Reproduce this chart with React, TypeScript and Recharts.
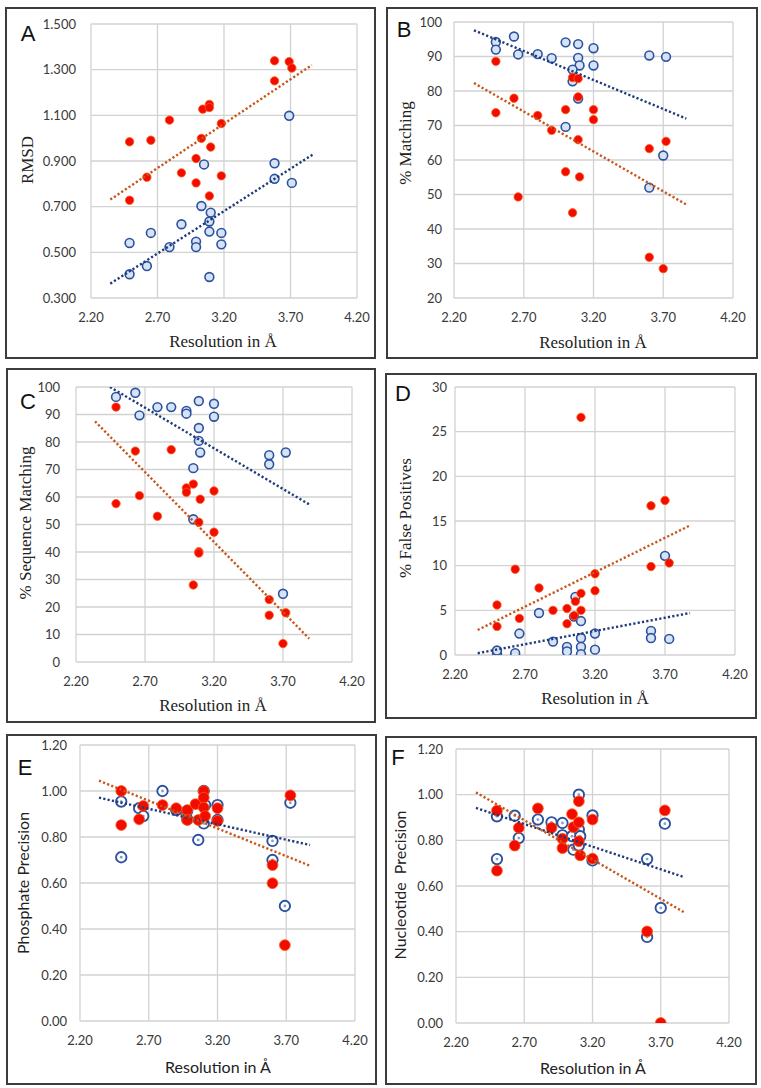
import React from 'react';
import { ScatterChart, Scatter, XAxis, YAxis, CartesianGrid } from 'recharts';

type Pt = { x: number; y: number };
const pts = (a: number[][]): Pt[] => a.map(([x, y]) => ({ x, y }));

// shared x axis ticks (Resolution in Å)
const resolutionTicks = [2.2, 2.7, 3.2, 3.7, 4.2];

// ---- Panel A: RMSD ----
const rmsdTicks = [0.3, 0.5, 0.7, 0.9, 1.1, 1.3, 1.5];
const rmsdBlue = pts([[2.49,0.541],[2.49,0.404],[2.65,0.585],[2.62,0.44],[2.79,0.523],[2.88,0.623],[2.99,0.547],[2.99,0.523],[3.05,0.885],[3.03,0.703],[3.1,0.674],[3.09,0.635],[3.09,0.591],[3.09,0.392],[3.18,0.585],[3.18,0.535],[3.58,0.89],[3.58,0.822],[3.69,1.098],[3.71,0.804]]);
const rmsdRed = pts([[2.49,0.984],[2.65,0.991],[2.79,1.079],[2.62,0.829],[2.49,0.728],[2.88,0.848],[2.99,0.911],[2.99,0.804],[3.04,1.127],[3.09,1.148],[3.09,1.134],[3.03,0.999],[3.1,0.961],[3.09,0.747],[3.18,1.064],[3.18,0.835],[3.58,1.339],[3.69,1.335],[3.71,1.307],[3.58,1.251]]);
const rmsdBlueTrend = pts([[2.345,0.363],[3.88,0.933]]);
const rmsdRedTrend = pts([[2.345,0.731],[3.86,1.32]]);

// ---- Panel B: % Matching ----
const matchTicks = [20, 30, 40, 50, 60, 70, 80, 90, 100];
const matchBlue = pts([[2.5,94.2],[2.5,92.0],[2.63,95.8],[2.66,90.6],[2.8,90.7],[2.9,89.5],[3.0,94.1],[3.09,93.6],[3.2,92.4],[3.09,89.6],[3.1,87.4],[3.2,87.4],[3.05,86.2],[3.05,82.8],[3.09,77.8],[3.0,69.6],[3.6,90.3],[3.72,89.9],[3.7,61.3],[3.6,52.0]]);
const matchRed = pts([[2.5,88.6],[2.5,73.7],[2.63,77.9],[2.66,49.3],[2.8,72.9],[2.9,68.6],[3.0,74.6],[3.0,56.6],[3.05,44.7],[3.05,83.9],[3.09,83.6],[3.09,78.3],[3.09,65.9],[3.1,55.1],[3.2,74.6],[3.2,71.7],[3.6,63.3],[3.72,65.4],[3.6,31.8],[3.7,28.5]]);
const matchBlueTrend = pts([[2.343,97.6],[3.865,72.0]]);
const matchRedTrend = pts([[2.343,82.3],[3.865,47.1]]);

// ---- Panel C: % Sequence Matching ----
const seqTicks = [0, 10, 20, 30, 40, 50, 60, 70, 80, 90, 100];
const seqBlue = pts([[2.49,96.4],[2.63,97.9],[2.66,89.7],[2.79,92.7],[2.89,92.7],[3.0,91.3],[3.0,90.3],[3.09,94.9],[3.2,93.9],[3.2,89.2],[3.09,85.1],[3.09,80.4],[3.1,76.2],[3.05,70.5],[3.05,51.9],[3.6,75.2],[3.6,71.9],[3.72,76.2],[3.7,24.8]]);
const seqRed = pts([[2.49,92.7],[2.49,57.6],[2.63,76.7],[2.66,60.5],[2.79,53.0],[2.89,77.2],[3.0,63.3],[3.0,61.7],[3.05,64.7],[3.1,59.2],[3.09,50.8],[3.09,40.1],[3.09,39.6],[3.05,28.0],[3.2,62.2],[3.2,47.2],[3.6,22.7],[3.6,17.0],[3.72,17.9],[3.7,6.7]]);
const seqBlueTrend = pts([[2.446,100],[3.89,57.3]]);
const seqRedTrend = pts([[2.338,87.5],[3.89,8.5]]);

// ---- Panel D: % False Positives ----
const fpTicks = [0, 5, 10, 15, 20, 25, 30];
const fpBlue = pts([[2.5,0.2],[2.5,0.5],[2.63,0.2],[2.66,2.4],[2.8,4.7],[2.9,1.5],[3.0,0.9],[3.0,0.4],[3.06,6.5],[3.05,4.3],[3.1,3.8],[3.1,1.9],[3.1,0.9],[3.1,0.1],[3.2,2.4],[3.2,0.6],[3.6,2.7],[3.6,1.9],[3.73,1.8],[3.7,11.1]]);
const fpRed = pts([[2.5,5.6],[2.5,3.2],[2.63,9.6],[2.66,4.1],[2.8,7.5],[2.9,5.0],[3.0,5.2],[3.0,3.5],[3.05,4.4],[3.06,6.0],[3.1,6.9],[3.1,5.0],[3.1,26.6],[3.2,9.1],[3.2,7.2],[3.6,16.7],[3.7,17.3],[3.6,9.9],[3.73,10.3]]);
const fpBlueTrend = pts([[2.362,0.2],[3.879,4.7]]);
const fpRedTrend = pts([[2.362,2.8],[3.879,14.5]]);

// ---- Panel E: Phosphate Precision ----
const precTicks = [0, 0.2, 0.4, 0.6, 0.8, 1.0, 1.2];
const phosBlue = pts([[2.5,0.954],[2.5,0.712],[2.63,0.925],[2.66,0.891],[2.8,1.0],[2.9,0.917],[2.98,0.914],[2.98,0.877],[3.06,0.787],[3.1,0.859],[3.11,0.939],[3.1,1.0],[3.2,0.939],[3.2,0.874],[3.6,0.783],[3.6,0.7],[3.69,0.5],[3.73,0.949]]);
const phosRed = pts([[2.5,1.0],[2.5,0.852],[2.63,0.877],[2.66,0.935],[2.8,0.939],[2.9,0.925],[2.98,0.917],[2.98,0.874],[3.04,0.943],[3.06,0.874],[3.1,1.0],[3.1,0.971],[3.1,0.928],[3.11,0.891],[3.2,0.925],[3.2,0.87],[3.6,0.678],[3.6,0.599],[3.69,0.33],[3.73,0.981]]);
const phosBlueTrend = pts([[2.338,0.971],[3.873,0.765]]);
const phosRedTrend = pts([[2.338,1.045],[3.873,0.675]]);

// ---- Panel F: Nucleotide Precision ----
const nucBlue = pts([[2.5,0.905],[2.5,0.718],[2.63,0.908],[2.66,0.81],[2.8,0.891],[2.9,0.879],[2.98,0.876],[2.98,0.822],[3.05,0.818],[3.06,0.759],[3.1,1.0],[3.1,0.847],[3.11,0.818],[3.1,0.777],[3.2,0.909],[3.2,0.712],[3.6,0.718],[3.6,0.377],[3.7,0.504],[3.73,0.873]]);
const nucRed = pts([[2.5,0.93],[2.5,0.667],[2.63,0.777],[2.66,0.855],[2.8,0.94],[2.9,0.855],[2.98,0.807],[2.98,0.766],[3.05,0.915],[3.06,0.858],[3.1,0.971],[3.1,0.879],[3.1,0.796],[3.11,0.734],[3.2,0.891],[3.2,0.72],[3.6,0.401],[3.7,0.0],[3.73,0.931]]);
const nucBlueTrend = pts([[2.346,0.942],[3.871,0.639]]);
const nucRedTrend = pts([[2.346,1.01],[3.871,0.485]]);

const SERIF = '"Liberation Serif", "Times New Roman", serif';
const SANS = 'Lato, "Open Sans", sans-serif';
const LETTER_FONT = '"Liberation Sans", Arial, sans-serif';

const BLUE_STROKE = '#2c519f';
const RED_FILL = '#f20c00';
const BLUE_TREND = '#1f3a7a';
const RED_TREND = '#c8561a';

const BlueDot = (p: any) => (
  <circle cx={p.cx} cy={p.cy} r={4.4} fill="#d5e3f5" stroke={BLUE_STROKE} strokeWidth={1.6} />
);
const BlueRing = (p: any) => (
  <g>
    <circle cx={p.cx} cy={p.cy} r={5.2} fill="#ffffff" stroke={BLUE_STROKE} strokeWidth={1.9} />
    <circle cx={p.cx} cy={p.cy} r={1.4} fill="#7f9fd6" />
  </g>
);
const RedDot = (p: any) => (
  <circle cx={p.cx} cy={p.cy} r={4.2} fill={RED_FILL} stroke="#ff5a14" strokeWidth={0.8} />
);
const RedBig = (p: any) => (
  <circle cx={p.cx} cy={p.cy} r={5.4} fill={RED_FILL} stroke="#ff5a14" strokeWidth={0.8} />
);
const NoDot = () => <g />;

type Rect = { l: number; t: number; r: number; b: number };
type PanelCfg = {
  box: Rect;
  plot: Rect;
  yDomain: [number, number];
  yTicks: number[];
  yFmt: (v: number) => string;
  yGap: number;
  blue: Pt[];
  red: Pt[];
  blueTrend: Pt[];
  redTrend: Pt[];
  letter: string;
  letterPos: [number, number];
  xTitlePos: [number, number];
  yTitle: string;
  yTitlePos: [number, number];
  serif: boolean;
  big: boolean;
};

const panels: PanelCfg[] = [
  {
    box: { l: 5, t: 7, r: 376, b: 359 }, plot: { l: 91, t: 24, r: 357, b: 298 },
    yDomain: [0.3, 1.5], yTicks: rmsdTicks, yFmt: (v) => v.toFixed(3), yGap: 15,
    blue: rmsdBlue, red: rmsdRed, blueTrend: rmsdBlueTrend, redTrend: rmsdRedTrend,
    letter: 'A', letterPos: [28, 34], xTitlePos: [223, 341], yTitle: 'RMSD', yTitlePos: [27, 160],
    serif: true, big: false,
  },
  {
    box: { l: 386, t: 7, r: 758, b: 359 }, plot: { l: 454, t: 22, r: 733, b: 298 },
    yDomain: [20, 100], yTicks: matchTicks, yFmt: (v) => String(v), yGap: 12,
    blue: matchBlue, red: matchRed, blueTrend: matchBlueTrend, redTrend: matchRedTrend,
    letter: 'B', letterPos: [404, 30], xTitlePos: [593, 342], yTitle: '% Matching', yTitlePos: [405, 143],
    serif: true, big: false,
  },
  {
    box: { l: 6, t: 368, r: 376, b: 723 }, plot: { l: 76, t: 387, r: 352, b: 662 },
    yDomain: [0, 100], yTicks: seqTicks, yFmt: (v) => String(v), yGap: 16,
    blue: seqBlue, red: seqRed, blueTrend: seqBlueTrend, redTrend: seqRedTrend,
    letter: 'C', letterPos: [28, 402], xTitlePos: [213, 705], yTitle: '% Sequence Matching', yTitlePos: [25, 523],
    serif: true, big: false,
  },
  {
    box: { l: 385, t: 373, r: 757, b: 719 }, plot: { l: 455, t: 387, r: 735, b: 655 },
    yDomain: [0, 30], yTicks: fpTicks, yFmt: (v) => String(v), yGap: 8,
    blue: fpBlue, red: fpRed, blueTrend: fpBlueTrend, redTrend: fpRedTrend,
    letter: 'D', letterPos: [403, 394], xTitlePos: [595, 698], yTitle: '% False Positives', yTitlePos: [405, 518],
    serif: true, big: false,
  },
  {
    box: { l: 6, t: 734, r: 377, b: 1085 }, plot: { l: 80, t: 745, r: 355, b: 1021 },
    yDomain: [0, 1.2], yTicks: precTicks, yFmt: (v) => v.toFixed(2), yGap: 13,
    blue: phosBlue, red: phosRed, blueTrend: phosBlueTrend, redTrend: phosRedTrend,
    letter: 'E', letterPos: [25, 768], xTitlePos: [218, 1067], yTitle: 'Phosphate Precision', yTitlePos: [23, 883],
    serif: false, big: true,
  },
  {
    box: { l: 385, t: 736, r: 757, b: 1085 }, plot: { l: 456, t: 749, r: 729, b: 1023 },
    yDomain: [0, 1.2], yTicks: precTicks, yFmt: (v) => v.toFixed(2), yGap: 13,
    blue: nucBlue, red: nucRed, blueTrend: nucBlueTrend, redTrend: nucRedTrend,
    letter: 'F', letterPos: [398, 758], xTitlePos: [593, 1068], yTitle: 'Nucleotide  Precision', yTitlePos: [400, 885],
    serif: false, big: true,
  },
];

const tickStyle = { fontFamily: SANS, fontSize: 13, fill: '#3a3a3a' };

function Panel({ c }: { c: PanelCfg }) {
  const w = c.box.r - c.box.l;
  const h = c.box.b - c.box.t;
  const titleFont = c.serif ? SERIF : SANS;
  const titleSize = c.serif ? 17 : 16;
  const trendLine = (color: string) => ({
    stroke: color, strokeWidth: 2.4, strokeDasharray: '2.2 2.2', fill: 'none',
  });
  return (
    <>
      <div
        style={{
          position: 'absolute', left: c.box.l, top: c.box.t, width: w, height: h,
          boxSizing: 'border-box', border: '2px solid #3c3c3c',
        }}
      />
      <div style={{ position: 'absolute', left: c.box.l, top: c.box.t, width: w, height: h }}>
        <ScatterChart
          width={w}
          height={h}
          margin={{ top: c.plot.t - c.box.t, right: c.box.r - c.plot.r, left: 0, bottom: 0 }}
        >
          <CartesianGrid stroke="#d2d2d2" strokeWidth={1.3} />
          <XAxis
            type="number" dataKey="x" domain={[2.2, 4.2]} ticks={resolutionTicks}
            tickFormatter={(v: number) => v.toFixed(2)} interval={0}
            axisLine={false} tickLine={false} tickSize={0} tickMargin={15}
            height={c.box.b - c.plot.b} tick={tickStyle} allowDataOverflow
          />
          <YAxis
            type="number" dataKey="y" domain={c.yDomain} ticks={c.yTicks}
            tickFormatter={c.yFmt} interval={0}
            axisLine={false} tickLine={false} tickSize={0} tickMargin={c.yGap}
            width={c.plot.l - c.box.l} tick={tickStyle} allowDataOverflow
          />
          <Scatter data={c.blue} fill={BLUE_STROKE} shape={c.big ? BlueRing : BlueDot} isAnimationActive={false} />
          <Scatter data={c.red} fill={RED_FILL} shape={c.big ? RedBig : RedDot} isAnimationActive={false} />
          <Scatter data={c.blueTrend} fill={BLUE_TREND} line={trendLine(BLUE_TREND)} shape={NoDot} isAnimationActive={false} />
          <Scatter data={c.redTrend} fill={RED_TREND} line={trendLine(RED_TREND)} shape={NoDot} isAnimationActive={false} />
        </ScatterChart>
      </div>
      <div
        style={{
          position: 'absolute', left: c.letterPos[0], top: c.letterPos[1],
          transform: 'translate(-50%, -50%)', fontFamily: LETTER_FONT, fontSize: 22,
          lineHeight: 1, color: '#111', whiteSpace: 'nowrap',
        }}
      >
        {c.letter}
      </div>
      <div
        style={{
          position: 'absolute', left: c.xTitlePos[0], top: c.xTitlePos[1],
          transform: 'translate(-50%, -50%)', fontFamily: titleFont, fontSize: titleSize,
          lineHeight: 1, color: '#222', whiteSpace: 'nowrap',
        }}
      >
        Resolution in Å
      </div>
      <div
        style={{
          position: 'absolute', left: c.yTitlePos[0], top: c.yTitlePos[1],
          transform: 'translate(-50%, -50%) rotate(-90deg)', fontFamily: titleFont, fontSize: titleSize,
          lineHeight: 1, color: '#222', whiteSpace: 'pre',
        }}
      >
        {c.yTitle}
      </div>
    </>
  );
}

export default function App() {
  return (
    <div style={{ position: 'absolute', left: 0, top: 0, width: 761, height: 1088, background: '#ffffff', overflow: 'hidden' }}>
      {panels.map((c) => (
        <Panel key={c.letter} c={c} />
      ))}
    </div>
  );
}
